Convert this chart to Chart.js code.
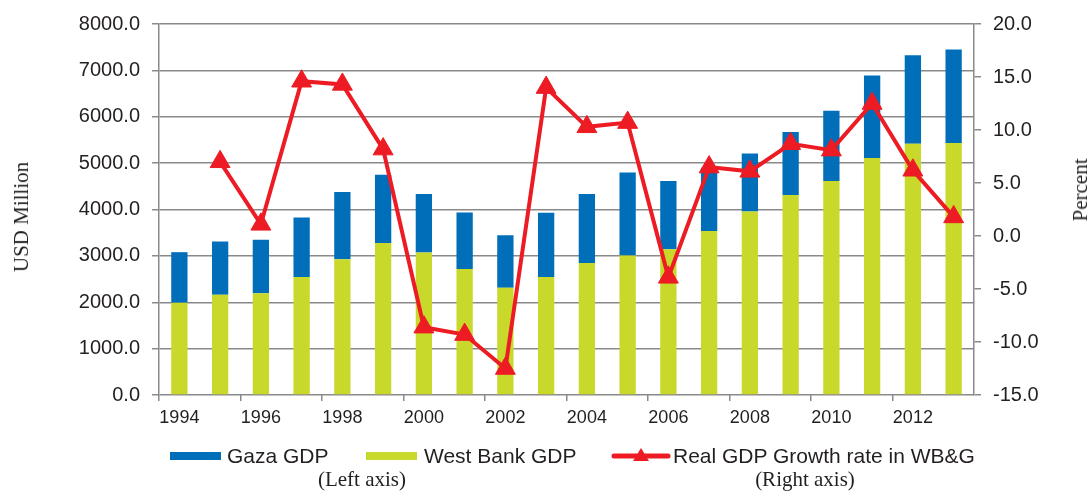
<!DOCTYPE html>
<html>
<head>
<meta charset="utf-8">
<script src="https://cdn.jsdelivr.net/npm/chart.js@4"></script>
<style>
    body { margin: 0; background: #fff; }
    #wrap { position: relative; width: 1091px; height: 493px; }
    #chart { position: absolute; left: 0; top: 0; }
    .txt { position: absolute; white-space: nowrap; color: #231f20; }
    .sans { font-family: "Liberation Sans", Arial, sans-serif; font-size: 21px; line-height: 20px; }
    .serif { font-family: "Liberation Serif", "Times New Roman", serif; font-size: 21px; line-height: 22px; }
    .box { position: absolute; height: 8px; width: 51px; }
</style>
</head>
<body>
<div id="wrap">
    <canvas id="chart" width="1091" height="493"></canvas>

    <div class="txt serif" style="left:21px;top:217px;transform:translate(-50%,-50%) rotate(-90deg);">USD Million</div>
    <div class="txt serif" style="left:1080px;top:190px;transform:translate(-50%,-50%) rotate(-90deg);">Percent</div>

    <div class="box" style="left:170px;top:452px;background:#006eb8;"></div>
    <div class="txt sans" style="left:227px;top:446px;">Gaza GDP</div>
    <div class="box" style="left:366px;top:452px;background:#c9d92b;"></div>
    <div class="txt sans" style="left:424px;top:446px;">West Bank GDP</div>
    <svg style="position:absolute;left:611px;top:447px;" width="60" height="18">
        <line x1="3" y1="9" x2="57" y2="9" stroke="#ed1c24" stroke-width="5" stroke-linecap="round"/>
        <polygon points="30,1 38,14 22,14" fill="#ed1c24"/>
    </svg>
    <div class="txt sans" style="left:673px;top:446px;">Real GDP Growth rate in WB&amp;G</div>

    <div class="txt serif" style="left:362px;top:468px;transform:translateX(-50%);">(Left axis)</div>
    <div class="txt serif" style="left:805px;top:468px;transform:translateX(-50%);">(Right axis)</div>
</div>

<script>
const years = ['1994', '1995', '1996', '1997', '1998', '1999', '2000', '2001', '2002', '2003',
    '2004', '2005', '2006', '2007', '2008', '2009', '2010', '2011', '2012', '2013'];

// USD million
const westBankGdp = [1990, 2160, 2195, 2545, 2925, 3280, 3075, 2715, 2315, 2545,
    2845, 3010, 3145, 3535, 3955, 4315, 4615, 5110, 5420, 5435];
const gazaGdp = [1090, 1150, 1155, 1285, 1455, 1470, 1260, 1220, 1130, 1385,
    1490, 1790, 1470, 1365, 1255, 1355, 1515, 1780, 1905, 2015];

// percent
const growthRate = [null, 7.0, 1.1, 14.6, 14.3, 8.2, -8.6, -9.3, -12.5, 14.0,
    10.3, 10.7, -3.9, 6.5, 6.1, 8.7, 8.1, 12.5, 6.2, 1.8];

const leftTicks = { min: 0, max: 8000, step: 1000 };
const rightTicks = { min: -15, max: 20, step: 5 };

const blue = '#006eb8';
const green = '#c9d92b';
const red = '#ed1c24';
const gray = '#8a8a8a';
const tickFont = { family: '"Liberation Sans", Arial, sans-serif', size: 20 };

const ctx = document.getElementById('chart').getContext('2d');
new Chart(ctx, {
    type: 'bar',
    data: {
        labels: years,
        datasets: [
            {
                type: 'line',
                label: 'Real GDP Growth rate in WB&G',
                data: growthRate,
                yAxisID: 'y1',
                borderColor: red,
                backgroundColor: red,
                borderWidth: 4,
                tension: 0,
                pointStyle: 'triangle',
                pointRadius: 11.5,
                pointHoverRadius: 11.5,
                pointBorderWidth: 1,
                order: 0
            },
            {
                label: 'West Bank GDP',
                data: westBankGdp,
                backgroundColor: green,
                barPercentage: 0.4,
                categoryPercentage: 1,
                order: 1
            },
            {
                label: 'Gaza GDP',
                data: gazaGdp,
                backgroundColor: blue,
                barPercentage: 0.4,
                categoryPercentage: 1,
                order: 1
            }
        ]
    },
    options: {
        responsive: false,
        animation: false,
        layout: { padding: { top: 22, left: 0, right: 0, bottom: 0 } },
        plugins: {
            legend: { display: false },
            tooltip: { enabled: false }
        },
        scales: {
            x: {
                stacked: true,
                border: { display: false },
                grid: {
                    offset: true,
                    drawOnChartArea: false,
                    tickLength: 6,
                    lineWidth: 1.5,
                    color: c => (c.index % 2 === 0 ? gray : 'rgba(0,0,0,0)')
                },
                ticks: {
                    autoSkip: false,
                    maxRotation: 0,
                    padding: 6,
                    color: '#231f20',
                    font: { family: tickFont.family, size: 18 },
                    callback: (v, i) => (i % 2 === 0 ? years[i] : '')
                },
                afterFit: s => { s.height = 98; }
            },
            y: {
                stacked: true,
                position: 'left',
                min: leftTicks.min,
                max: leftTicks.max,
                border: { color: gray, width: 1.5 },
                grid: { color: gray, lineWidth: 1.5, tickLength: 7 },
                ticks: {
                    stepSize: leftTicks.step,
                    padding: 12,
                    color: '#231f20',
                    font: tickFont,
                    callback: v => v.toFixed(1)
                },
                afterFit: s => { s.width = 159; }
            },
            y1: {
                position: 'right',
                min: rightTicks.min,
                max: rightTicks.max,
                border: { color: gray, width: 1.5 },
                grid: { drawOnChartArea: false, color: gray, lineWidth: 1.5, tickLength: 7 },
                ticks: {
                    stepSize: rightTicks.step,
                    padding: 12,
                    color: '#231f20',
                    font: tickFont,
                    callback: v => v.toFixed(1)
                },
                afterFit: s => { s.width = 117; }
            }
        }
    }
});
</script>
</body>
</html>
